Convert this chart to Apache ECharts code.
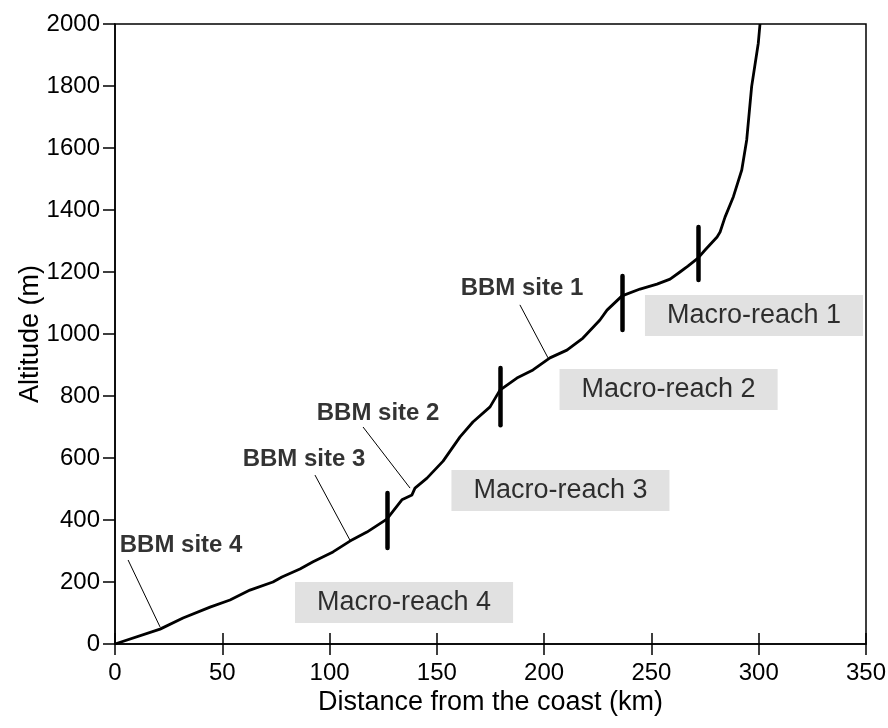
<!DOCTYPE html>
<html>
<head>
<meta charset="utf-8">
<script src="https://cdn.jsdelivr.net/npm/echarts@6/dist/echarts.min.js"></script>
<style>
  html, body { margin: 0; padding: 0; background: #fff; }
  #chart { width: 888px; height: 728px; }
</style>
</head>
<body>
<div id="chart"></div>
<script>
// river long profile: distance (km) and altitude (m)
const distance = [0, 21.0, 31.7, 44.3, 53.6, 62.9, 73.6, 77.8, 86.2, 92.3, 101.6, 109.5, 117.4, 126.7,
  133.7, 138.4, 139.8, 145.4, 152.9, 160.8, 166.8, 174.8, 179.4, 187.3, 194.8, 202.7, 210.6, 218.1,
  226.0, 229.3, 236.3, 244.7, 252.6, 258.7, 263.3, 267.0, 271.7, 275.0, 280.6, 282.0, 284.3, 288.2,
  292.1, 294.4, 296.7, 299.8, 300.6]
const altitude = [0, 48, 84, 119, 142, 174, 200, 216, 242, 265, 297, 332, 361, 403,
  465, 481, 503, 535, 590, 668, 716, 765, 819, 858, 884, 923, 948, 987,
  1045, 1077, 1123, 1145, 1161, 1177, 1200, 1219, 1245, 1271, 1313, 1329, 1377, 1443,
  1529, 1626, 1798, 1938, 2000]

// macro-reach limits (vertical bars)
const limitDist = [126.7, 179.4, 236.2, 271.8]
const limitLow = [310, 706, 1013, 1174]
const limitHigh = [487, 890, 1187, 1345]

// BBM sites: label anchor and leader line
const siteNames = ['BBM site 1', 'BBM site 2', 'BBM site 3', 'BBM site 4']
const siteLabelX = [189.7, 122.6, 88.1, 30.8]
const siteLabelY = [1148, 745, 594, 319]
const leaderFrom = [[188.7, 1094], [115.6, 700], [93.2, 545], [6.1, 271]]
const leaderTo = [[201.8, 923], [137.5, 503], [109.5, 335], [21.0, 55]]

// macro-reach labels
const reachNames = ['Macro-reach 1', 'Macro-reach 2', 'Macro-reach 3', 'Macro-reach 4']
const reachX = [297.8, 258.0, 207.6, 134.7]
const reachY = [1060, 821, 495, 134]

const xTicks = { min: 0, max: 350, interval: 50 }
const yTicks = { min: 0, max: 2000, interval: 200 }

const FONT = '"Liberation Sans", Arial, sans-serif'
const axisStroke = { color: '#000', width: 1.5 }

const chart = echarts.init(document.getElementById('chart'))

chart.setOption({
  animation: false,
  textStyle: { fontFamily: FONT, color: '#000' },
  grid: {
    left: 115, right: 22, top: 24, bottom: 84,
    outerBoundsMode: 'none',
    containLabel: false,
    show: true, borderColor: '#000', borderWidth: 1.5
  },
  xAxis: [
    {
      type: 'value',
      ...xTicks,
      name: 'Distance from the coast (km)',
      nameLocation: 'middle',
      nameGap: 45,
      nameMoveOverlap: false,
      nameTextStyle: { fontSize: 27, color: '#000', fontFamily: FONT },
      axisLine: { show: true, onZero: false, lineStyle: axisStroke },
      axisTick: { show: false },
      axisLabel: { fontSize: 24, color: '#000', margin: 17, fontFamily: FONT },
      splitLine: { show: false }
    },
    {
      // ticks crossing the bottom axis: shifted up by half their length
      type: 'value',
      ...xTicks,
      position: 'bottom',
      offset: -11,
      axisLine: { show: false, onZero: false },
      axisTick: { show: true, length: 22, lineStyle: axisStroke },
      axisLabel: { show: false },
      splitLine: { show: false }
    }
  ],
  yAxis: {
    type: 'value',
    ...yTicks,
    name: 'Altitude (m)',
    nameLocation: 'middle',
    nameGap: 71,
    nameMoveOverlap: false,
    nameTextStyle: { fontSize: 27, color: '#000', fontFamily: FONT },
    axisLine: { show: true, lineStyle: axisStroke },
    axisTick: { show: true, length: 12, lineStyle: axisStroke },
    axisLabel: { fontSize: 24, color: '#000', margin: 15, fontFamily: FONT, formatter: v => String(v) },
    splitLine: { show: false }
  },
  series: [
    {
      type: 'line',
      data: distance.map((d, i) => [d, altitude[i]]),
      symbol: 'none',
      lineStyle: { color: '#000', width: 2.8, join: 'round' },
      z: 3
    },
    {
      type: 'lines',
      coordinateSystem: 'cartesian2d',
      data: limitDist.map((d, i) => ({ coords: [[d, limitLow[i]], [d, limitHigh[i]]] })),
      lineStyle: { color: '#000', width: 4.5, cap: 'round', opacity: 1 },
      z: 4
    },
    {
      type: 'lines',
      coordinateSystem: 'cartesian2d',
      data: leaderFrom.map((p, i) => ({ coords: [p, leaderTo[i]] })),
      lineStyle: { color: '#000', width: 1, opacity: 1 },
      z: 2
    },
    {
      type: 'scatter',
      symbolSize: 0,
      data: siteNames.map((n, i) => ({ name: n, value: [siteLabelX[i], siteLabelY[i]] })),
      label: {
        show: true, position: 'inside', formatter: '{b}',
        fontSize: 24, fontWeight: 'bold', color: '#000', fontFamily: FONT
      },
      z: 5
    },
    {
      type: 'scatter',
      symbolSize: 0,
      data: reachNames.map((n, i) => ({ name: n, value: [reachX[i], reachY[i]] })),
      label: {
        show: true, position: 'inside', formatter: '{b}',
        fontSize: 27, color: '#000', fontFamily: FONT,
        backgroundColor: '#d9d9d9', padding: [7, 22, 7, 22]
      },
      z: 5
    }
  ]
})
</script>
</body>
</html>
